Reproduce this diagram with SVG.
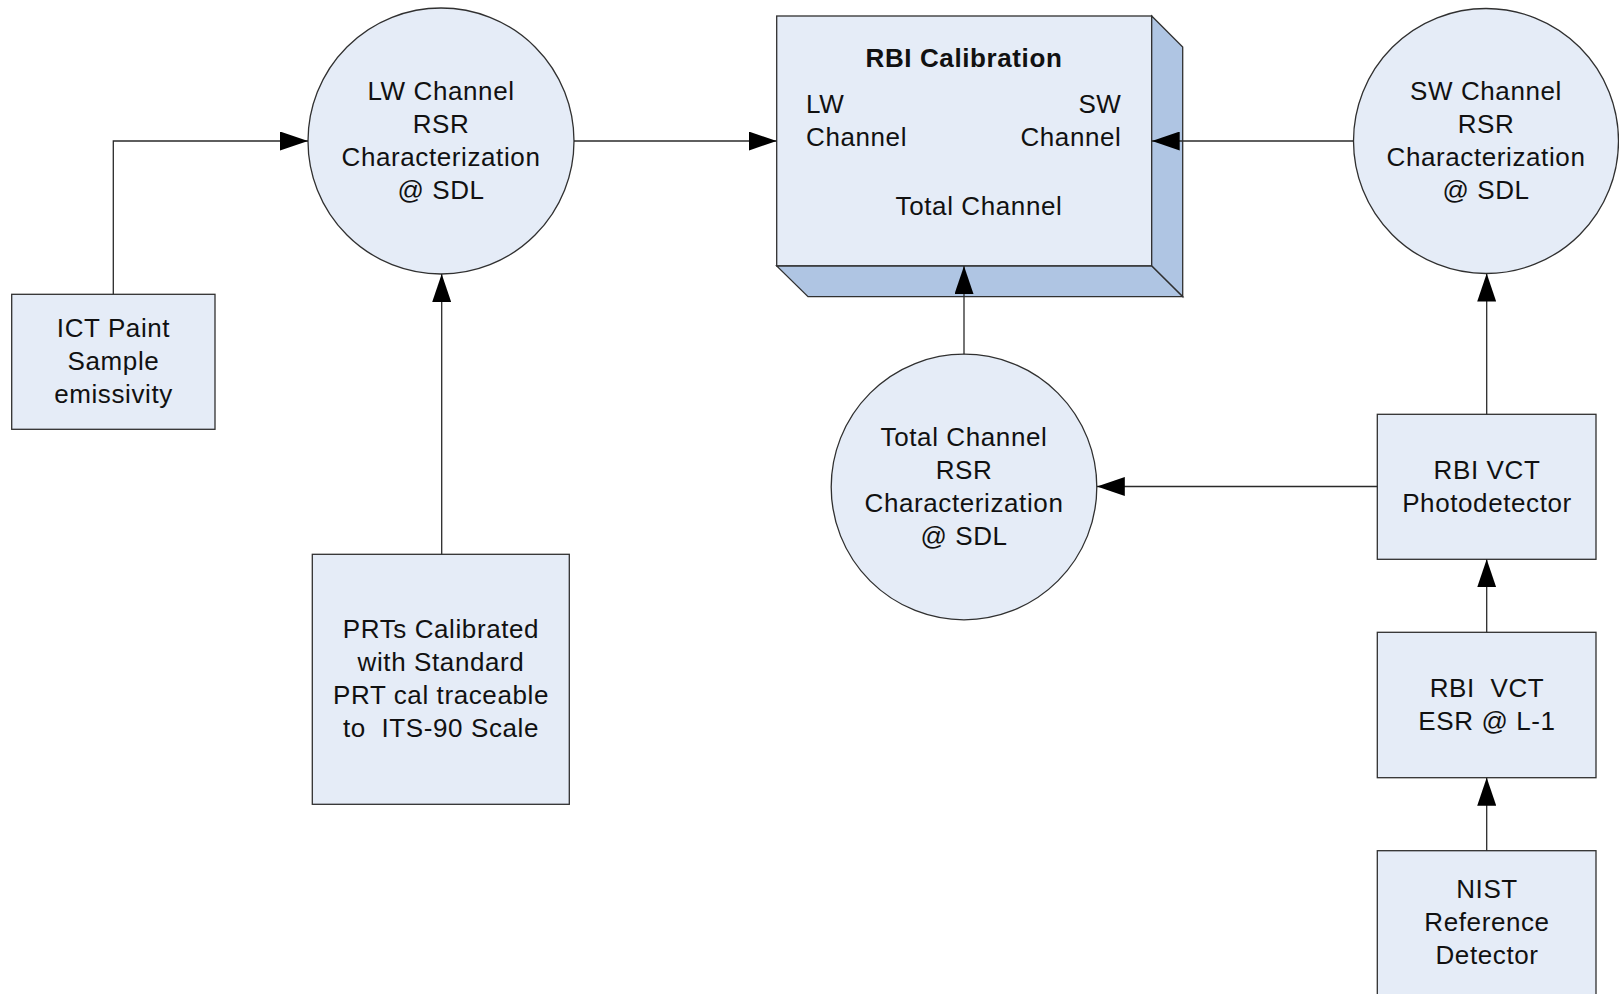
<svg xmlns="http://www.w3.org/2000/svg" width="1619" height="994" viewBox="0 0 1619 994">
<defs>
<style>
.node{fill:#E5ECF7;stroke:#303030;stroke-width:1.3}
.side{fill:#AFC5E3;stroke:#303030;stroke-width:1.3;stroke-linejoin:miter}
.t{font-family:"Liberation Sans",Arial,sans-serif;font-size:26px;letter-spacing:0.6px;fill:#111;text-anchor:middle}
.b{font-weight:bold}
.s{text-anchor:start}
.e{text-anchor:end}
.c{fill:none;stroke:#2a2a2a;stroke-width:1.3;marker-end:url(#arr)}
</style>
<marker id="arr" markerUnits="userSpaceOnUse" markerWidth="28" markerHeight="19" refX="28" refY="9.5" orient="auto">
<path d="M0,0 L28,9.5 L0,19 z" fill="#000"/>
</marker>
</defs>
<rect width="1619" height="994" fill="#fff"/>

<g id="rbi-calibration">
<rect class="node" x="776.7" y="16" width="375" height="250"/>
<path class="side" d="M1151.7,16 L1182.7,47 L1182.7,296.7 L1151.7,266 Z"/>
<path class="side" d="M776.7,266 L1151.7,266 L1182.7,296.7 L808,296.7 Z"/>
<text class="t b" x="964" y="66.5">RBI Calibration</text>
<text class="t s" x="806" y="112.5">LW</text>
<text class="t s" x="806" y="145.5">Channel</text>
<text class="t e" x="1121.5" y="112.5">SW</text>
<text class="t e" x="1121.5" y="145.5">Channel</text>
<text class="t" x="979" y="214.5">Total Channel</text>
</g>

<g id="lw-channel">
<circle class="node" cx="441" cy="141" r="133"/>
<text class="t" x="441" y="100">LW Channel</text>
<text class="t" x="441" y="133">RSR</text>
<text class="t" x="441" y="166">Characterization</text>
<text class="t" x="441" y="199">@ SDL</text>
</g>

<g id="sw-channel">
<circle class="node" cx="1486" cy="141" r="132.5"/>
<text class="t" x="1486" y="100">SW Channel</text>
<text class="t" x="1486" y="133">RSR</text>
<text class="t" x="1486" y="166">Characterization</text>
<text class="t" x="1486" y="199">@ SDL</text>
</g>

<g id="total-channel">
<circle class="node" cx="964" cy="487" r="132.8"/>
<text class="t" x="964" y="446">Total Channel</text>
<text class="t" x="964" y="479">RSR</text>
<text class="t" x="964" y="512">Characterization</text>
<text class="t" x="964" y="545">@ SDL</text>
</g>

<g id="ict-paint">
<rect class="node" x="11.7" y="294.3" width="203.3" height="135"/>
<text class="t" x="113.5" y="337.3">ICT Paint</text>
<text class="t" x="113.5" y="370.3">Sample</text>
<text class="t" x="113.5" y="403.3">emissivity</text>
</g>

<g id="prts">
<rect class="node" x="312.3" y="554.3" width="257" height="250"/>
<text class="t" x="441" y="638.3">PRTs Calibrated</text>
<text class="t" x="441" y="671.3">with Standard</text>
<text class="t" x="441" y="704.3">PRT cal traceable</text>
<text class="t" x="441" y="737.3" xml:space="preserve">to  ITS-90 Scale</text>
</g>

<g id="photodetector">
<rect class="node" x="1377.3" y="414.3" width="218.7" height="145"/>
<text class="t" x="1487" y="479">RBI VCT</text>
<text class="t" x="1487" y="512">Photodetector</text>
</g>

<g id="esr">
<rect class="node" x="1377.3" y="632.3" width="218.7" height="145.4"/>
<text class="t" x="1487" y="697" xml:space="preserve">RBI  VCT</text>
<text class="t" x="1487" y="730">ESR @ L-1</text>
</g>

<g id="nist">
<rect class="node" x="1377.3" y="850.7" width="218.7" height="146"/>
<text class="t" x="1487" y="898">NIST</text>
<text class="t" x="1487" y="931">Reference</text>
<text class="t" x="1487" y="964">Detector</text>
</g>

<g id="connectors">
<path class="c" d="M113.3,294.3 L113.3,141 L308,141"/>
<path class="c" d="M441.7,554.3 L441.7,274"/>
<path class="c" d="M574,141 L776.7,141"/>
<path class="c" d="M1353.5,141 L1151.7,141"/>
<path class="c" d="M964,354.3 L964,266"/>
<path class="c" d="M1486.7,414.3 L1486.7,273.5"/>
<path class="c" d="M1377.3,486.5 L1096.8,486.5"/>
<path class="c" d="M1486.7,632.3 L1486.7,559.3"/>
<path class="c" d="M1486.7,850.7 L1486.7,777.7"/>
</g>
</svg>
